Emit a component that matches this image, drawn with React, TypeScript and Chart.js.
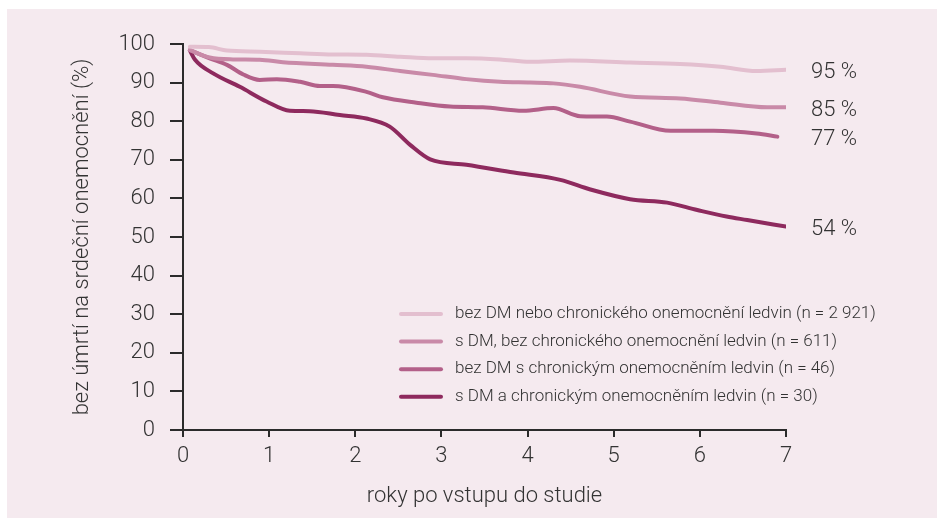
import React, { useEffect, useRef } from "react";
import { Chart, registerables } from "chart.js";

Chart.register(...registerables);

const seriesLabels = [
  "bez DM nebo chronického onemocnění ledvin (n = 2 921)",
  "s DM, bez chronického onemocnění ledvin (n = 611)",
  "bez DM s chronickým onemocněním ledvin (n = 46)",
  "s DM a chronickým onemocněním ledvin (n = 30)",
];
const endLabels = ["95 %", "85 %", "77 %", "54 %"];
const colors = ["#e3bfcf", "#c98aa8", "#b36089", "#8e2a5e"];

const t1 = [0.08, 0.3, 0.51, 0.89, 1.36, 1.74, 2.13, 2.52, 2.9, 3.29, 3.68, 4.03, 4.49, 5.19, 5.77, 6.24, 6.66, 7.0];
const v1 = [99.3, 99.2, 98.3, 98.0, 97.6, 97.3, 97.2, 96.7, 96.3, 96.3, 96.0, 95.4, 95.7, 95.2, 94.8, 94.1, 93.0, 93.3];

const t2 = [0.08, 0.31, 0.58, 0.89, 1.16, 1.74, 2.13, 2.52, 2.9, 3.29, 3.68, 4.03, 4.3, 4.61, 5.19, 5.77, 6.24, 6.78, 7.0];
const v2 = [98.4, 96.5, 96.0, 95.9, 95.3, 94.6, 94.1, 93.0, 92.0, 90.9, 90.2, 90.0, 89.8, 88.9, 86.4, 85.9, 84.8, 83.6, 83.6];

const t3 = [0.08, 0.31, 0.51, 0.7, 0.89, 1.09, 1.36, 1.59, 1.74, 2.13, 2.32, 2.71, 3.1, 3.48, 3.95, 4.3, 4.61, 4.92, 5.19, 5.66, 6.16, 6.66, 6.9];
const v3 = [98.4, 96.3, 94.6, 92.1, 90.7, 90.9, 90.2, 89.1, 89.1, 87.6, 86.2, 84.8, 83.8, 83.6, 82.7, 83.4, 81.3, 81.2, 79.9, 77.5, 77.5, 76.8, 76.0];

const t4 = [0.08, 0.14, 0.35, 0.66, 0.97, 1.24, 1.47, 1.82, 2.13, 2.4, 2.64, 2.87, 3.29, 3.84, 4.38, 4.73, 5.19, 5.62, 5.97, 6.31, 6.55, 7.0];
const v4 = [98.3, 95.9, 92.4, 88.9, 85.1, 82.7, 82.6, 81.6, 80.7, 78.6, 73.8, 70.1, 68.7, 66.7, 64.8, 62.3, 59.8, 58.9, 57.0, 55.3, 54.4, 52.7];

const times = [t1, t2, t3, t4];
const values = [v1, v2, v3, v4];

const xTitle = "roky po vstupu do studie";
const yTitle = "bez úmrtí na srdeční onemocnění (%)";

const FONT = "Roboto, 'Liberation Sans', sans-serif";
const TEXT = "#333333";
const AXIS = "#2b2b2b";

export default function App() {
  const ref = useRef<HTMLCanvasElement>(null);
  useEffect(() => {
    if (!ref.current) return;
    const overlay = {
      id: "overlay",
      afterDatasetsDraw(chart: any) {
        const ctx = chart.ctx;
        const xs = chart.scales.x;
        const ys = chart.scales.y;
        ctx.save();
        // end labels
        ctx.fillStyle = TEXT;
        ctx.font = `300 22px ${FONT}`;
        ctx.textBaseline = "middle";
        ctx.textAlign = "left";
        values.forEach((vals, i) => {
          const last = vals[vals.length - 1];
          ctx.fillText(endLabels[i], xs.getPixelForValue(7) + 25, ys.getPixelForValue(last) + 3);
        });
        // legend
        const lx = chart.chartArea.left + 218;
        const ly = 314;
        ctx.font = `300 17px ${FONT}`;
        seriesLabels.forEach((lab, i) => {
          const y = ly + i * 27.6;
          ctx.strokeStyle = colors[i];
          ctx.lineWidth = 4;
          ctx.lineCap = "round";
          ctx.beginPath();
          ctx.moveTo(lx, y);
          ctx.lineTo(lx + 40, y);
          ctx.stroke();
          ctx.fillStyle = TEXT;
          ctx.fillText(lab, lx + 54, y);
        });
        ctx.restore();
      },
    };
    const chart = new Chart(ref.current, {
      type: "line",
      data: {
        datasets: values.map((vals, i) => ({
          label: seriesLabels[i],
          data: vals.map((v, j) => ({ x: times[i][j], y: v })),
          borderColor: colors[i],
          borderWidth: 4,
          borderCapStyle: "round",
          borderJoinStyle: "round",
          pointRadius: 0,
          cubicInterpolationMode: "monotone",
          fill: false,
        })),
      },
      options: {
        animation: false,
        responsive: false,
        events: [],
        layout: { padding: { left: 60, top: 44, right: 151, bottom: 0 } },
        plugins: { legend: { display: false }, tooltip: { enabled: false } },
        scales: {
          x: {
            type: "linear",
            min: 0,
            max: 7,
            afterFit: (s: any) => { s.height = 88; },
            ticks: { stepSize: 1, color: TEXT, padding: 6, font: { family: FONT, size: 22, weight: "300" } },
            grid: { drawOnChartArea: false, tickLength: 7, color: AXIS, lineWidth: 2 },
            border: { color: AXIS, width: 2 },
            title: { display: true, text: xTitle, color: TEXT, padding: { top: 0, bottom: 8 }, font: { family: FONT, size: 22, weight: "300" } },
          },
          y: {
            min: 0,
            max: 100,
            afterFit: (s: any) => { s.width = 123; },
            ticks: { stepSize: 10, color: TEXT, padding: 15, font: { family: FONT, size: 22, weight: "300" } },
            grid: { drawOnChartArea: false, tickLength: 13, color: AXIS, lineWidth: 2 },
            border: { color: AXIS, width: 2 },
            title: { display: true, text: yTitle, color: TEXT, padding: { top: 9, bottom: 0 }, font: { family: FONT, size: 22, weight: "300" } },
          },
        },
      },
      plugins: [overlay],
    } as any);
    return () => chart.destroy();
  }, []);
  return (
    <div style={{ position: "fixed", left: 7, top: 9, right: 0, bottom: 0, background: "#f5eaef" }}>
      <canvas ref={ref} width={937} height={518} style={{ position: "fixed", left: 0, top: 0 }} />
    </div>
  );
}
